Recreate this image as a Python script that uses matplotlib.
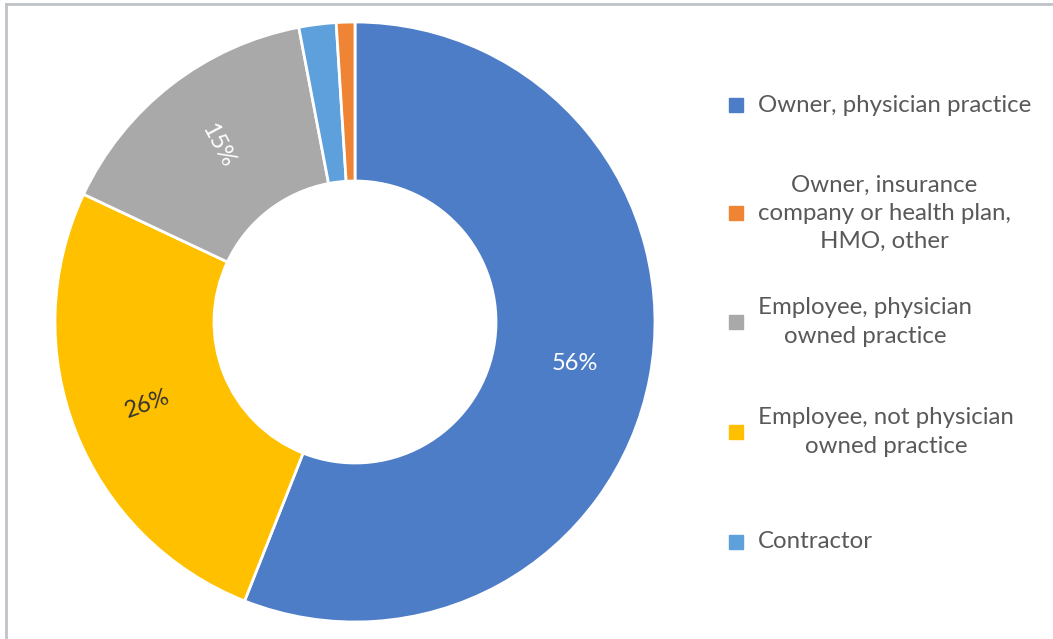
import matplotlib
matplotlib.use("Agg")
import matplotlib.pyplot as plt
from matplotlib.patches import Rectangle
from matplotlib.lines import Line2D
import numpy as np

plt.rcParams['font.family'] = ['Lato', 'DejaVu Sans']

# Slices in drawing order (clockwise from 12 o'clock)
slice_names = ["Owner, physician practice",
               "Employee, not physician owned practice",
               "Employee, physician owned practice",
               "Contractor",
               "Owner, insurance company or health plan, HMO, other"]
slice_values = [56, 26, 15, 2, 1]
slice_colors = ["#4E7DC8", "#FFC000", "#A9A9A9", "#5EA0DB", "#EE8434"]
label_colors = ["white", "#333333", "white", None, None]
label_rot = [0, 20, -62, 0, 0]

# Legend entries in legend order
legend_labels = ["Owner, physician practice",
                 "Owner, insurance\ncompany or health plan,\nHMO, other",
                 "Employee, physician\nowned practice",
                 "Employee, not physician\nowned practice",
                 "Contractor"]
legend_colors = ["#4E7DC8", "#EE8434", "#A9A9A9", "#FFC000", "#5EA0DB"]

W, H = 1053, 639
fig = plt.figure(figsize=(W / 100, H / 100), dpi=100)
fig.patch.set_facecolor("white")

# Donut axes: centre (355, 322) px, outer radius 300 px
cx, cy, r = 355, 322, 300
ax = fig.add_axes([(cx - r) / W, (H - cy - r) / H, 2 * r / W, 2 * r / H])

inner = 0.47
wedges, _ = ax.pie(slice_values, colors=slice_colors, startangle=90,
                   counterclock=False, radius=1.0,
                   wedgeprops=dict(width=1 - inner, edgecolor="white", linewidth=2))
ax.set_xlim(-1, 1)
ax.set_ylim(-1, 1)
ax.set_aspect("equal")
ax.axis("off")

theta = 90.0
for v, c, rot in zip(slice_values, label_colors, label_rot):
    mid = theta - v * 360 / 100 / 2
    theta -= v * 360 / 100
    if c is None:
        continue
    rr = (1 + inner) / 2 + 0.01
    x, y = rr * np.cos(np.radians(mid)), rr * np.sin(np.radians(mid))
    ax.text(x, y, f"{v}%", color=c, fontsize=17, ha="center", va="center",
            rotation=rot)

# Legend drawn in figure pixel coordinates
ys = [105, 213, 322, 432, 542]
for lab, col, y in zip(legend_labels, legend_colors, ys):
    fig.patches.append(Rectangle((729 / W, (H - y - 7) / H), 14 / W, 14 / H,
                                 transform=fig.transFigure, color=col))
    fig.text(758 / W, (H - y) / H, lab, ha="left", va="center",
             multialignment="center", fontsize=17.3, color="#595959",
             linespacing=1.42)

# Frame lines on the top and left edges
fig.add_artist(Line2D([6 / W, 1], [1 - 4 / H, 1 - 4 / H], transform=fig.transFigure,
                      color="#BFC3C8", linewidth=2))
fig.add_artist(Line2D([6 / W, 6 / W], [0, 1 - 4 / H], transform=fig.transFigure,
                      color="#BFC3C8", linewidth=2))

fig.savefig("out.png", dpi=100, facecolor="white")
